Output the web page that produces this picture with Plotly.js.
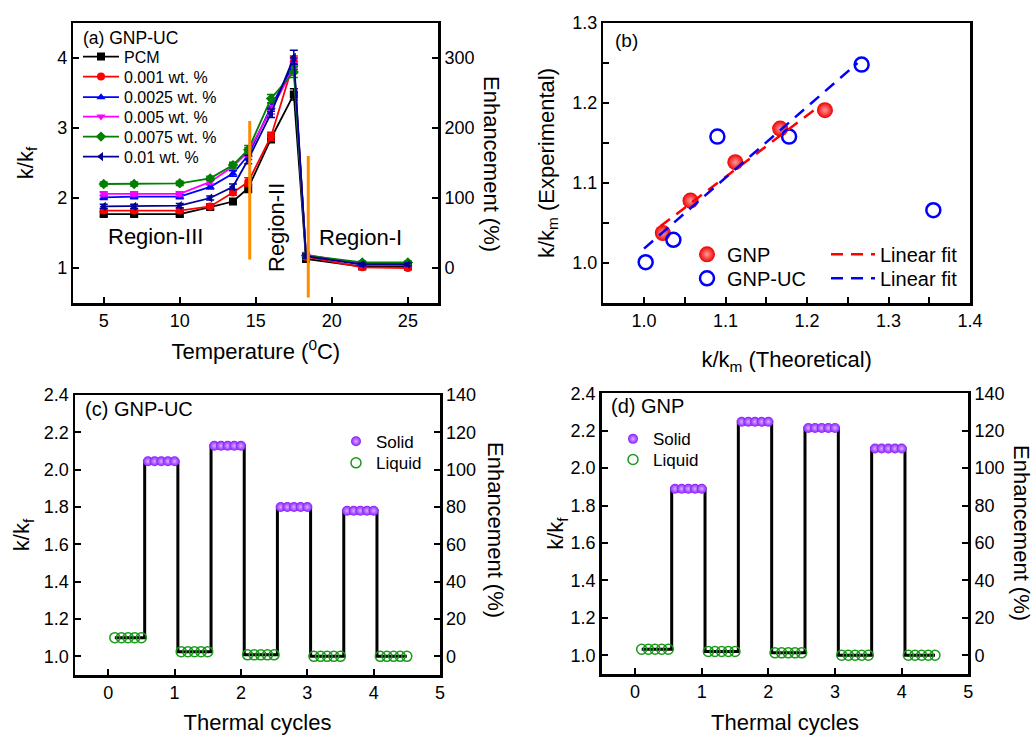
<!DOCTYPE html>
<html><head><meta charset="utf-8">
<script src="https://cdn.plot.ly/plotly-3.0.1.min.js"></script>
<style>html,body{margin:0;padding:0;background:#fff}#chart{width:1035px;height:735px}</style>
</head><body><div id="chart"></div>
<script>
// ---------- Panel (a): k/kf vs temperature, GNP-UC ----------
const temperature = [5, 7, 10, 12, 13.5, 14.5, 16, 17.5, 18.3, 22, 25];
const seriesNames = ['PCM', '0.001 wt. %', '0.0025 wt. %', '0.005 wt. %', '0.0075 wt. %', '0.01 wt. %'];
const kPCM   = [1.77, 1.77, 1.77, 1.87, 1.95, 2.14, 2.85, 3.48, 1.13, 1.02, 1.02];
const k0001  = [1.82, 1.82, 1.82, 1.88, 2.08, 2.23, 2.88, 3.95, 1.16, 1.01, 1.00];
const k00025 = [2.01, 2.02, 2.02, 2.16, 2.35, 2.61, 3.30, 3.92, 1.18, 1.06, 1.06];
const k0005  = [2.06, 2.06, 2.06, 2.23, 2.45, 2.66, 3.26, 3.86, 1.19, 1.05, 1.05];
const k00075 = [2.20, 2.20, 2.21, 2.28, 2.47, 2.69, 3.42, 3.80, 1.18, 1.08, 1.08];
const k001   = [1.88, 1.88, 1.89, 2.00, 2.16, 2.55, 3.21, 4.01, 1.17, 1.05, 1.05];
const errA   = [0.03, 0.03, 0.03, 0.03, 0.04, 0.06, 0.06, 0.08, 0.03, 0.02, 0.02];
const errTop = [0.03, 0.03, 0.03, 0.03, 0.04, 0.06, 0.06, 0.10, 0.03, 0.02, 0.02];
const regionBoundX = [14.6, 18.45];
const regionBoundLow = [1.12, 0.58];
const regionBoundHigh = [3.10, 2.60];

// ---------- Panel (b): experimental vs theoretical ----------
const gnpTheo = [1.023, 1.057, 1.112, 1.167, 1.222];
const gnpExp  = [1.0375, 1.078, 1.126, 1.168, 1.191];
const ucTheo  = [1.002, 1.036, 1.090, 1.178, 1.267, 1.355];
const ucExp   = [1.001, 1.029, 1.158, 1.158, 1.248, 1.066];
const fitGnpX = [1.02, 1.215];
const fitGnpY = [1.046, 1.196];
const fitUcX  = [1.0, 1.262];
const fitUcY  = [1.018, 1.250];

// ---------- Panels (c),(d): thermal cycles ----------
const liquidX = [0.1,0.2,0.3,0.4,0.5, 1.1,1.2,1.3,1.4,1.5, 2.1,2.2,2.3,2.4,2.5, 3.1,3.2,3.3,3.4,3.5, 4.1,4.2,4.3,4.4,4.5];
const solidX  = [0.6,0.7,0.8,0.9,1.0, 1.6,1.7,1.8,1.9,2.0, 2.6,2.7,2.8,2.9,3.0, 3.6,3.7,3.8,3.9,4.0];
const ucLiquid = [1.10,1.10,1.10,1.10,1.10, 1.025,1.025,1.025,1.025,1.025, 1.008,1.008,1.008,1.008,1.008, 1.0,1.0,1.0,1.0,1.0, 1.0,1.0,1.0,1.0,1.0];
const ucSolid  = [2.045,2.045,2.045,2.045,2.045, 2.128,2.128,2.128,2.128,2.128, 1.80,1.80,1.80,1.80,1.80, 1.78,1.78,1.78,1.78,1.78];
const gnpLiquid = [1.032,1.032,1.032,1.032,1.032, 1.02,1.02,1.02,1.02,1.02, 1.013,1.013,1.013,1.013,1.013, 1.0,1.0,1.0,1.0,1.0, 1.0,1.0,1.0,1.0,1.0];
const gnpSolid  = [1.89,1.89,1.89,1.89,1.89, 2.248,2.248,2.248,2.248,2.248, 2.215,2.215,2.215,2.215,2.215, 2.105,2.105,2.105,2.105,2.105];

const FONT = 'Arial, "Liberation Sans", sans-serif';
const W = 1035, H = 735;
const px = v => v / W;
const py = v => 1 - v / H;
const enh = arr => arr.map(k => (k - 1) * 100);

function stepLine(xs1, ys1, xs2, ys2) {
  const pts = xs1.map((x, i) => [x, ys1[i]]).concat(xs2.map((x, i) => [x, ys2[i]]));
  pts.sort((a, b) => a[0] - b[0]);
  return {x: pts.map(p => p[0]), y: pts.map(p => p[1])};
}

const colorsA = ['#000000', '#ff0000', '#0000ff', '#ff00ff', '#008000', '#000099'];
const symbolsA = ['square', 'circle', 'triangle-up', 'triangle-down', 'diamond', 'triangle-left'];
const valuesA = [kPCM, k0001, k00025, k0005, k00075, k001];
const errsA = [errA, errA, errA, errA, errA, errTop];
const legendIdsA = ['legend', 'legend2', 'legend3', 'legend4', 'legend5', 'legend6'];

const traces = [];
valuesA.forEach((vals, i) => {
  traces.push({
    x: temperature, y: vals, name: seriesNames[i], type: 'scatter', mode: 'lines+markers',
    xaxis: 'x', yaxis: 'y', legend: legendIdsA[i],
    line: {color: colorsA[i], width: 1.8},
    marker: {symbol: symbolsA[i], color: colorsA[i], size: 8},
    error_y: {type: 'data', array: errsA[i], color: colorsA[i], thickness: 1.5, width: 4}
  });
});
// right-axis (enhancement) companion, no visible marks
traces.push({x: temperature, y: enh(kPCM), type: 'scatter', mode: 'none', xaxis: 'x', yaxis: 'y5', showlegend: false, hoverinfo: 'skip'});

// panel b
traces.push({x: gnpTheo, y: gnpExp, name: 'GNP', type: 'scatter', mode: 'markers', xaxis: 'x2', yaxis: 'y2', legend: 'legend7',
  marker: {color: '#ee0000', size: 16, gradient: {type: 'radial', color: '#ff9a9a'}, line: {width: 0}}});
traces.push({x: ucTheo, y: ucExp, name: 'GNP-UC', type: 'scatter', mode: 'markers', xaxis: 'x2', yaxis: 'y2', legend: 'legend8',
  marker: {color: '#0000ff', size: 14, symbol: 'circle-open', line: {color: '#0000ff', width: 2.5}}});
traces.push({x: fitGnpX, y: fitGnpY, name: 'Linear fit', type: 'scatter', mode: 'lines', xaxis: 'x2', yaxis: 'y2', legend: 'legend9',
  line: {color: '#ff0000', width: 2.5, dash: '12px,8px'}});
traces.push({x: fitUcX, y: fitUcY, name: 'Linear fit', type: 'scatter', mode: 'lines', xaxis: 'x2', yaxis: 'y2', legend: 'legend10',
  line: {color: '#0000ff', width: 2.5, dash: '12px,8px'}});

// panel c
const stepC = stepLine(liquidX, ucLiquid, solidX, ucSolid);
traces.push({x: stepC.x, y: stepC.y, type: 'scatter', mode: 'lines', xaxis: 'x3', yaxis: 'y3', showlegend: false,
  line: {color: '#000', width: 3, shape: 'hvh'}});
traces.push({x: solidX, y: ucSolid, name: 'Solid', type: 'scatter', mode: 'markers', xaxis: 'x3', yaxis: 'y3', legend: 'legend11',
  marker: {color: '#8a1aff', size: 10, gradient: {type: 'radial', color: '#d8b0ff'}, line: {width: 0}}});
traces.push({x: liquidX, y: ucLiquid, name: 'Liquid', type: 'scatter', mode: 'markers', xaxis: 'x3', yaxis: 'y3', legend: 'legend12',
  marker: {symbol: 'circle-open', color: '#1a9a1a', size: 10, line: {color: '#1a9a1a', width: 1.5}}});
traces.push({x: liquidX, y: enh(ucLiquid), type: 'scatter', mode: 'none', xaxis: 'x3', yaxis: 'y6', showlegend: false, hoverinfo: 'skip'});

// panel d
const stepD = stepLine(liquidX, gnpLiquid, solidX, gnpSolid);
traces.push({x: stepD.x, y: stepD.y, type: 'scatter', mode: 'lines', xaxis: 'x4', yaxis: 'y4', showlegend: false,
  line: {color: '#000', width: 3, shape: 'hvh'}});
traces.push({x: solidX, y: gnpSolid, name: 'Solid', type: 'scatter', mode: 'markers', xaxis: 'x4', yaxis: 'y4', legend: 'legend13',
  marker: {color: '#8a1aff', size: 10, gradient: {type: 'radial', color: '#d8b0ff'}, line: {width: 0}}});
traces.push({x: liquidX, y: gnpLiquid, name: 'Liquid', type: 'scatter', mode: 'markers', xaxis: 'x4', yaxis: 'y4', legend: 'legend14',
  marker: {symbol: 'circle-open', color: '#1a9a1a', size: 10, line: {color: '#1a9a1a', width: 1.5}}});
traces.push({x: liquidX, y: enh(gnpLiquid), type: 'scatter', mode: 'none', xaxis: 'x4', yaxis: 'y7', showlegend: false, hoverinfo: 'skip'});

const tickFont = {family: FONT, size: 18, color: '#000'};
const titleFont = {family: FONT, size: 22, color: '#000'};
function ax(extra) {
  return Object.assign({showline: true, linecolor: '#000', linewidth: 2.5, mirror: true, ticks: 'inside', ticklen: 6,
    tickwidth: 2, tickcolor: '#000', showgrid: false, zeroline: false, tickfont: tickFont, fixedrange: true}, extra);
}
function rightAx(extra) {
  return Object.assign({showline: true, linecolor: '#000', linewidth: 2.5, ticks: 'inside', ticklen: 6, tickwidth: 2,
    tickcolor: '#000', showgrid: false, zeroline: false, tickfont: tickFont, side: 'right', fixedrange: true}, extra);
}
function leg(xPix, yPix, size, extra) {
  return Object.assign({bgcolor: 'rgba(0,0,0,0)', borderwidth: 0, xanchor: 'left', yanchor: 'middle',
    x: px(xPix), y: py(yPix), font: {family: FONT, size: size, color: '#000'}}, extra || {});
}

const layout = {
  width: W, height: H, margin: {l: 0, r: 0, t: 0, b: 0}, paper_bgcolor: '#fff', plot_bgcolor: '#fff',
  font: {family: FONT, color: '#000'},
  xaxis: ax({domain: [px(73.3), px(438.3)], anchor: 'y', range: [3, 27], tickvals: [5, 10, 15, 20, 25],
    title: {text: 'Temperature (<sup>0</sup>C)', font: titleFont, standoff: 14}}),
  yaxis: ax({domain: [py(303), py(23)], anchor: 'x', range: [0.5, 4.5], tickvals: [1, 2, 3, 4],
    title: {text: 'k/k<sub>f</sub>', font: titleFont, standoff: 18}}),
  yaxis5: rightAx({overlaying: 'y', anchor: 'x', range: [-50, 350], tickvals: [0, 100, 200, 300]}),
  xaxis2: ax({domain: [px(603.3), px(970)], anchor: 'y2', range: [0.95, 1.4], dtick: 0.1, tick0: 1.0, tickformat: '.1f',
    minor: {ticks: 'inside', dtick: 0.05, ticklen: 6, tickwidth: 2, tickcolor: '#000'},
    title: {text: 'k/k<sub>m</sub> (Theoretical)', font: titleFont, standoff: 22}}),
  yaxis2: ax({domain: [py(303), py(23)], anchor: 'x2', range: [0.95, 1.3], dtick: 0.1, tick0: 1.0, tickformat: '.1f',
    minor: {ticks: 'inside', dtick: 0.05, ticklen: 6, tickwidth: 2, tickcolor: '#000'},
    title: {text: 'k/k<sub>m</sub> (Experimental)', font: titleFont, standoff: 12}}),
  xaxis3: ax({domain: [px(75), px(440)], anchor: 'y3', range: [-0.5, 5], dtick: 1,
    title: {text: 'Thermal cycles', font: titleFont, standoff: 14}}),
  yaxis3: ax({domain: [py(675), py(395)], anchor: 'x3', range: [0.9, 2.4], dtick: 0.2, tick0: 1.0, tickformat: '.1f',
    title: {text: 'k/k<sub>f</sub>', font: titleFont, standoff: 8}}),
  yaxis6: rightAx({overlaying: 'y3', anchor: 'x3', range: [-10, 140], dtick: 20, tick0: 0}),
  xaxis4: ax({domain: [px(601.7), px(968.3)], anchor: 'y4', range: [-0.5, 5], dtick: 1,
    title: {text: 'Thermal cycles', font: titleFont, standoff: 14}}),
  yaxis4: ax({domain: [py(674), py(393.3)], anchor: 'x4', range: [0.9, 2.4], dtick: 0.2, tick0: 1.0, tickformat: '.1f',
    title: {text: 'k/k<sub>f</sub>', font: titleFont, standoff: 0}}),
  yaxis7: rightAx({overlaying: 'y4', anchor: 'x4', range: [-10, 140], dtick: 20, tick0: 0}),
  legend:   leg(78, 56.7, 16, {itemwidth: 36}),
  legend2:  leg(78, 76.7, 16, {itemwidth: 36}),
  legend3:  leg(78, 97.3, 16, {itemwidth: 36}),
  legend4:  leg(78, 116.7, 16, {itemwidth: 36}),
  legend5:  leg(78, 136.7, 16, {itemwidth: 36}),
  legend6:  leg(78, 156.7, 16, {itemwidth: 36}),
  legend7:  leg(687, 254.3, 20),
  legend8:  leg(687, 278.3, 20),
  legend9:  leg(826, 254.3, 20, {itemwidth: 44}),
  legend10: leg(826, 278.3, 20, {itemwidth: 44}),
  legend11: leg(336, 441.7, 17),
  legend12: leg(336, 463.3, 17),
  legend13: leg(613, 439.3, 17),
  legend14: leg(613, 460, 17),
  shapes: regionBoundX.map((xv, i) => ({type: 'line', xref: 'x', yref: 'y', x0: xv, x1: xv,
    y0: regionBoundLow[i], y1: regionBoundHigh[i], line: {color: '#ff8c00', width: 3}})),
  annotations: [
    {text: '(a) GNP-UC', xref: 'paper', yref: 'paper', x: px(81), y: py(38), xanchor: 'left', yanchor: 'middle', showarrow: false, font: {family: FONT, size: 17.5}},
    {text: 'Region-III', xref: 'paper', yref: 'paper', x: px(155.5), y: py(236), xanchor: 'center', yanchor: 'middle', showarrow: false, font: {family: FONT, size: 22}},
    {text: 'Region-II', xref: 'paper', yref: 'paper', x: px(276.5), y: py(227.5), xanchor: 'center', yanchor: 'middle', textangle: -90, showarrow: false, font: {family: FONT, size: 22}},
    {text: 'Region-I', xref: 'paper', yref: 'paper', x: px(361), y: py(238), xanchor: 'center', yanchor: 'middle', showarrow: false, font: {family: FONT, size: 22}},
    {text: 'Enhancement (%)', xref: 'paper', yref: 'paper', x: px(491), y: py(164), xanchor: 'center', yanchor: 'middle', textangle: 90, showarrow: false, font: titleFont},
    {text: '(b)', xref: 'paper', yref: 'paper', x: px(613), y: py(40.5), xanchor: 'left', yanchor: 'middle', showarrow: false, font: {family: FONT, size: 19}},
    {text: '(c) GNP-UC', xref: 'paper', yref: 'paper', x: px(83), y: py(409), xanchor: 'left', yanchor: 'middle', showarrow: false, font: {family: FONT, size: 20}},
    {text: 'Enhancement (%)', xref: 'paper', yref: 'paper', x: px(496), y: py(530), xanchor: 'center', yanchor: 'middle', textangle: 90, showarrow: false, font: titleFont},
    {text: '(d) GNP', xref: 'paper', yref: 'paper', x: px(609), y: py(406), xanchor: 'left', yanchor: 'middle', showarrow: false, font: {family: FONT, size: 20}},
    {text: 'Enhancement (%)', xref: 'paper', yref: 'paper', x: px(1022), y: py(533), xanchor: 'center', yanchor: 'middle', textangle: 90, showarrow: false, font: titleFont}
  ]
};

Plotly.newPlot('chart', traces, layout, {staticPlot: true, displayModeBar: false});
</script>
</body></html>
